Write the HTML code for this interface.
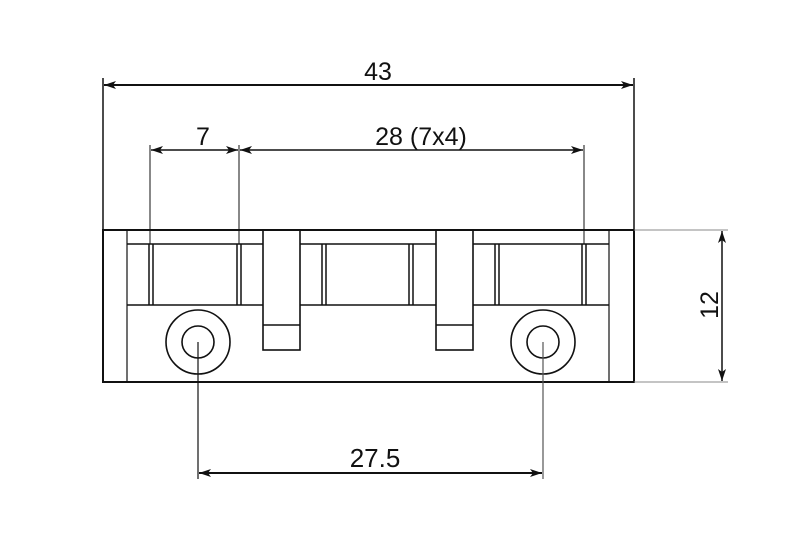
<!DOCTYPE html>
<html><head><meta charset="utf-8"><style>
html,body{margin:0;padding:0;background:#fff;}
svg{display:block;}
text{font-family:"Liberation Sans",sans-serif;fill:#111;}
</style></head><body>
<svg width="800" height="533" viewBox="0 0 800 533" xmlns="http://www.w3.org/2000/svg">
<defs>
<marker id="a" viewBox="0 0 12 8" refX="12" refY="4" markerWidth="12" markerHeight="8" orient="auto-start-reverse" markerUnits="userSpaceOnUse">
<path d="M0,0 L12,4 L0,8 L3,4 Z" fill="#111"/>
</marker>
</defs>
<g stroke="#111" fill="none">
<!-- outer body -->
<rect x="103" y="230" width="531" height="152" stroke-width="2"/>
<line x1="127" y1="230" x2="127" y2="382" stroke-width="1.2"/>
<line x1="609" y1="230" x2="609" y2="382" stroke-width="1.2"/>
<!-- band -->
<path d="M127,244 H263 M300,244 H436 M473,244 H609 M127,305 H263 M300,305 H436 M473,305 H609" stroke-width="1.6"/>
<!-- double lines -->
<path d="M149,244V305 M153,244V305 M237,244V305 M241,244V305 M322,244V305 M326,244V305 M409,244V305 M413,244V305 M495,244V305 M499,244V305 M582,244V305 M586,244V305" stroke-width="1.5"/>
<!-- tabs -->
<rect x="263" y="230" width="37" height="120" stroke-width="1.6"/>
<line x1="263" y1="325" x2="300" y2="325" stroke-width="1.5"/>
<rect x="436" y="230" width="37" height="120" stroke-width="1.6"/>
<line x1="436" y1="325" x2="473" y2="325" stroke-width="1.5"/>
<!-- holes -->
<circle cx="198" cy="342" r="32" stroke-width="1.6"/>
<circle cx="198" cy="342" r="16" stroke-width="1.6"/>
<circle cx="543" cy="342" r="32" stroke-width="1.6"/>
<circle cx="543" cy="342" r="16" stroke-width="1.6"/>
<!-- extension lines -->
<line x1="103" y1="78" x2="103" y2="230" stroke-width="1.5"/>
<line x1="634" y1="78" x2="634" y2="230" stroke-width="1.5"/>
<line x1="150" y1="145" x2="150" y2="244" stroke-width="1"/>
<line x1="239" y1="145" x2="239" y2="244" stroke-width="1"/>
<line x1="584" y1="145" x2="584" y2="244" stroke-width="1"/>
<line x1="634" y1="230" x2="728" y2="230" stroke="#888" stroke-width="1"/>
<line x1="634" y1="382" x2="728" y2="382" stroke="#888" stroke-width="1"/>
<line x1="198" y1="342" x2="198" y2="479" stroke-width="1.2"/>
<line x1="543" y1="342" x2="543" y2="479" stroke="#555" stroke-width="1.2"/>
<!-- dimension lines -->
<line x1="104" y1="85" x2="633" y2="85" stroke-width="2" marker-start="url(#a)" marker-end="url(#a)"/>
<line x1="151" y1="150" x2="238" y2="150" stroke-width="1.5" marker-start="url(#a)" marker-end="url(#a)"/>
<line x1="240" y1="150" x2="583" y2="150" stroke-width="1.5" marker-start="url(#a)" marker-end="url(#a)"/>
<line x1="722" y1="231" x2="722" y2="381" stroke-width="1.5" marker-start="url(#a)" marker-end="url(#a)"/>
<line x1="199" y1="473" x2="542" y2="473" stroke-width="2" marker-start="url(#a)" marker-end="url(#a)"/>
</g>
<text x="378" y="80" font-size="25" text-anchor="middle">43</text>
<text x="203" y="145" font-size="25" text-anchor="middle">7</text>
<text x="421" y="145" font-size="25" text-anchor="middle">28 (7x4)</text>
<text x="375" y="467" font-size="26" text-anchor="middle">27.5</text>
<text transform="translate(718,305) rotate(-90)" font-size="25" text-anchor="middle">12</text>
</svg>
</body></html>
